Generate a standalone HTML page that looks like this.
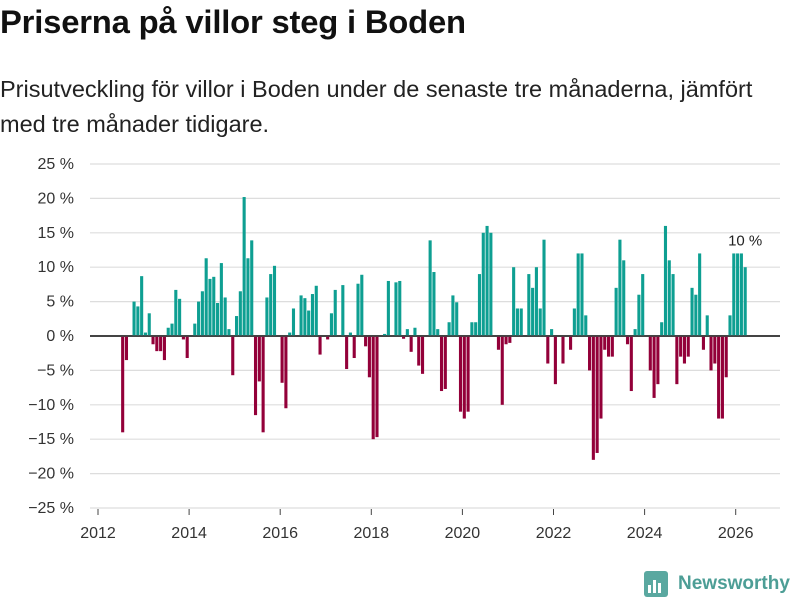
<!DOCTYPE html>
<html><head><meta charset="utf-8"><style>
body{margin:0;background:#fff;font-family:"Liberation Sans",sans-serif;}
#wrap{position:relative;width:800px;height:600px;overflow:hidden;}
h1{position:absolute;left:0;top:3px;margin:0;font-size:32.8px;font-weight:bold;color:#111;letter-spacing:-0.2px;}
p{position:absolute;left:0;top:72px;margin:0;font-size:23.5px;line-height:35px;color:#222;width:800px;white-space:nowrap;}
</style></head><body>
<div id="wrap">
<h1>Priserna på villor steg i Boden</h1>
<p>Prisutveckling för villor i Boden under de senaste tre månaderna, jämfört<br>med tre månader tidigare.</p>
<svg id="chart" width="800" height="600" style="position:absolute;left:0;top:0"></svg>
</div>
<script>
const startYear = 2012, startMonth = 6; // July 2012
const values = [
-14,-3.5,0,5,4.3,8.7,
0.5,3.3,-1.2,-2.2,-2.2,-3.5,1.2,1.8,6.7,5.4,-0.5,-3.2,
0,1.8,5,6.5,11.3,8.3,8.6,4.8,10.6,5.6,1,-5.7,
2.9,6.5,20.2,11.3,13.9,-11.5,-6.6,-14,5.6,9,10.2,0,
-6.8,-10.5,0.5,4,0,5.9,5.5,3.7,6.1,7.3,-2.7,0,
-0.5,3.3,6.7,0,7.4,-4.8,0.5,-3.2,7.6,8.9,-1.5,-6,
-15,-14.7,0,0.3,8,0,7.8,8,-0.4,1,-2.3,1.2,
-4.3,-5.5,0,13.9,9.3,1,-8,-7.7,2,5.9,4.9,-11,
-12,-11,2,2,9,15,16,15,0,-2,-10,-1.2,
-1,10,4,4,0,9,7,10,4,14,-4,1,
-7,0,-4,0,-2,4,12,12,3,-5,-18,-17,
-12,-2,-3,-3,7,14,11,-1.2,-8,1,6,9,
0,-5,-9,-7,2,16,11,9,-7,-3,-4,-3,
7,6,12,-2,3,-5,-4,-12,-12,-6,3,12,
12,12,10
];
const yTicks = [25,20,15,10,5,0,-5,-10,-15,-20,-25];
const xTicks = [2012,2014,2016,2018,2020,2022,2024,2026];
const lastLabel = "10 %";

const NS="http://www.w3.org/2000/svg";
const svg=document.getElementById('chart');
const y0=336, pxPer=6.88;
function yScale(v){return y0 - v*pxPer;}
const x2012=98, pxYear=45.55;
function xScale(yearFrac){return x2012+(yearFrac-2012)*pxYear;}
function mk(t,a){const e=document.createElementNS(NS,t);for(const k in a)e.setAttribute(k,a[k]);svg.appendChild(e);return e;}

yTicks.forEach(t=>{
  const g=mk('line',{x1:90,x2:780,y1:yScale(t),y2:yScale(t),stroke:t===0?'#444':'#ddd','stroke-width':t===0?2:1.2});
  
  
  const tx=mk('text',{x:74,y:yScale(t)+5,'text-anchor':'end','font-size':16,fill:'#333','font-family':'Liberation Sans, sans-serif'});
  tx.textContent=(t<0?'−'+(-t):t)+' %';
  
  
});
xTicks.forEach(t=>{
  const x=xScale(t);
  const l=mk('line',{x1:x,x2:x,y1:509,y2:515,stroke:'#444','stroke-width':1});
  
  
  const tx=mk('text',{x:x,y:538,'text-anchor':'middle','font-size':16,fill:'#333','font-family':'Liberation Sans, sans-serif'});
  tx.textContent=t;
  
  
});
const bw=3.1;
values.forEach((v,i)=>{
  const m=startMonth+i;
  const xc=xScale(startYear+(m+0.5)/12);
  const y=Math.min(yScale(v),y0), h=Math.abs(yScale(v)-y0);
  const r=mk('rect',{x:xc-bw/2,y:y,width:bw,height:h,fill:v>=0?'#0e9f92':'#930039'});
  
  
});
const zl=mk('line',{x1:90,x2:780,y1:y0,y2:y0,stroke:'#444','stroke-width':1.5});


const li=values.length-1;
const lx=xScale(startYear+(startMonth+li+0.5)/12);
const lt=mk('text',{x:lx,y:yScale(Math.max(...values.slice(-4)))-8,'text-anchor':'middle','font-size':15,fill:'#222','font-family':'Liberation Sans, sans-serif'});
lt.textContent=lastLabel;


</script>
<svg width="160" height="40" style="position:absolute;left:640px;top:565px">
<rect x="4" y="6" width="24" height="26" rx="3" fill="#5aa8a0"/>
<rect x="8" y="20" width="3" height="8" fill="#fff"/><rect x="13" y="15" width="3" height="13" fill="#fff"/><rect x="18" y="18" width="3" height="10" fill="#fff"/>
<text x="38" y="24" font-size="19" font-weight="bold" fill="#4d9e96" font-family="Liberation Sans, sans-serif">Newsworthy</text>
</svg>
</body></html>
